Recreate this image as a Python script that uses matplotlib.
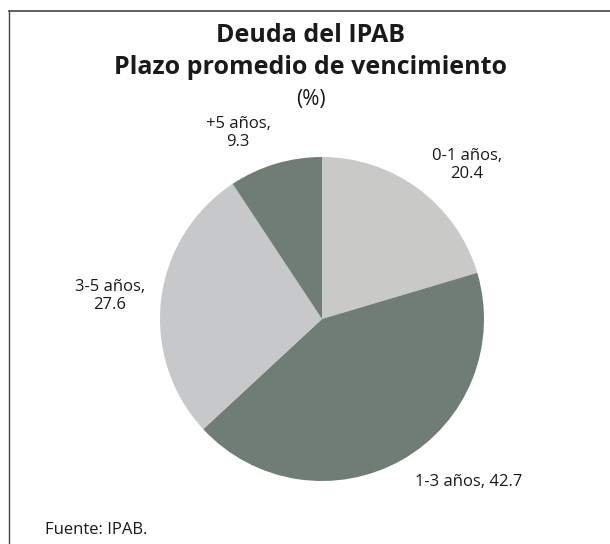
import matplotlib
matplotlib.use("Agg")
import matplotlib.pyplot as plt
import matplotlib.lines as mlines

# Data: share of IPAB debt by maturity bucket (%)
categories = ["0-1 años", "1-3 años", "3-5 años", "+5 años"]
values = [20.4, 42.7, 27.6, 9.3]
colors = ["#c9cac8", "#6f7d75", "#c6c8c9", "#6f7d75"]

plt.rcParams["font.family"] = ["Open Sans", "DejaVu Sans"]

W, H = 610, 544
fig = plt.figure(figsize=(W / 100, H / 100), dpi=100, facecolor="white")

# frame: only top and left edges are visible in the reference
fig.add_artist(mlines.Line2D([9 / W, 1.0], [1 - 11 / H, 1 - 11 / H],
                             transform=fig.transFigure, color="#444444", lw=1.2))
fig.add_artist(mlines.Line2D([9 / W, 9 / W], [0, 1 - 11 / H],
                             transform=fig.transFigure, color="#444444", lw=1.0))

tx = 311 / W
fig.text(tx, 1 - 35 / H, "Deuda del IPAB", ha="center", va="center",
         fontsize=18, fontweight="bold", color="#1a1a1a")
fig.text(tx, 1 - 67 / H, "Plazo promedio de vencimiento", ha="center",
         va="center", fontsize=18, fontweight="bold", color="#1a1a1a")
fig.text(tx, 1 - 99 / H, "(%)", ha="center", va="center",
         fontsize=15, color="#1a1a1a")

# pie axes: center (322, 319), radius ~162 px
cx, cy, r = 322, 319, 162
ax = fig.add_axes([(cx - r) / W, 1 - (cy + r) / H, 2 * r / W, 2 * r / H])
ax.pie(values, colors=colors, startangle=90, counterclock=False,
       wedgeprops={"linewidth": 0})
ax.set_xlim(-1, 1)
ax.set_ylim(-1, 1)
ax.set_aspect("equal")

label_pos = {
    "0-1 años": (467, 165),
    "1-3 años": (469, 482),
    "3-5 años": (110, 296),
    "+5 años": (238, 133),
}
for cat, val in zip(categories, values):
    x, y = label_pos[cat]
    txt = f"{cat}, {val}" if cat == "1-3 años" else f"{cat},\n{val}"
    fig.text(x / W, 1 - y / H, txt, ha="center", va="center",
             fontsize=12, color="#1a1a1a", linespacing=1.1)

fig.text(45 / W, 1 - 530 / H, "Fuente: IPAB.", ha="left", va="center",
         fontsize=12, color="#1a1a1a")

fig.savefig("out.png", dpi=100, facecolor="white")
